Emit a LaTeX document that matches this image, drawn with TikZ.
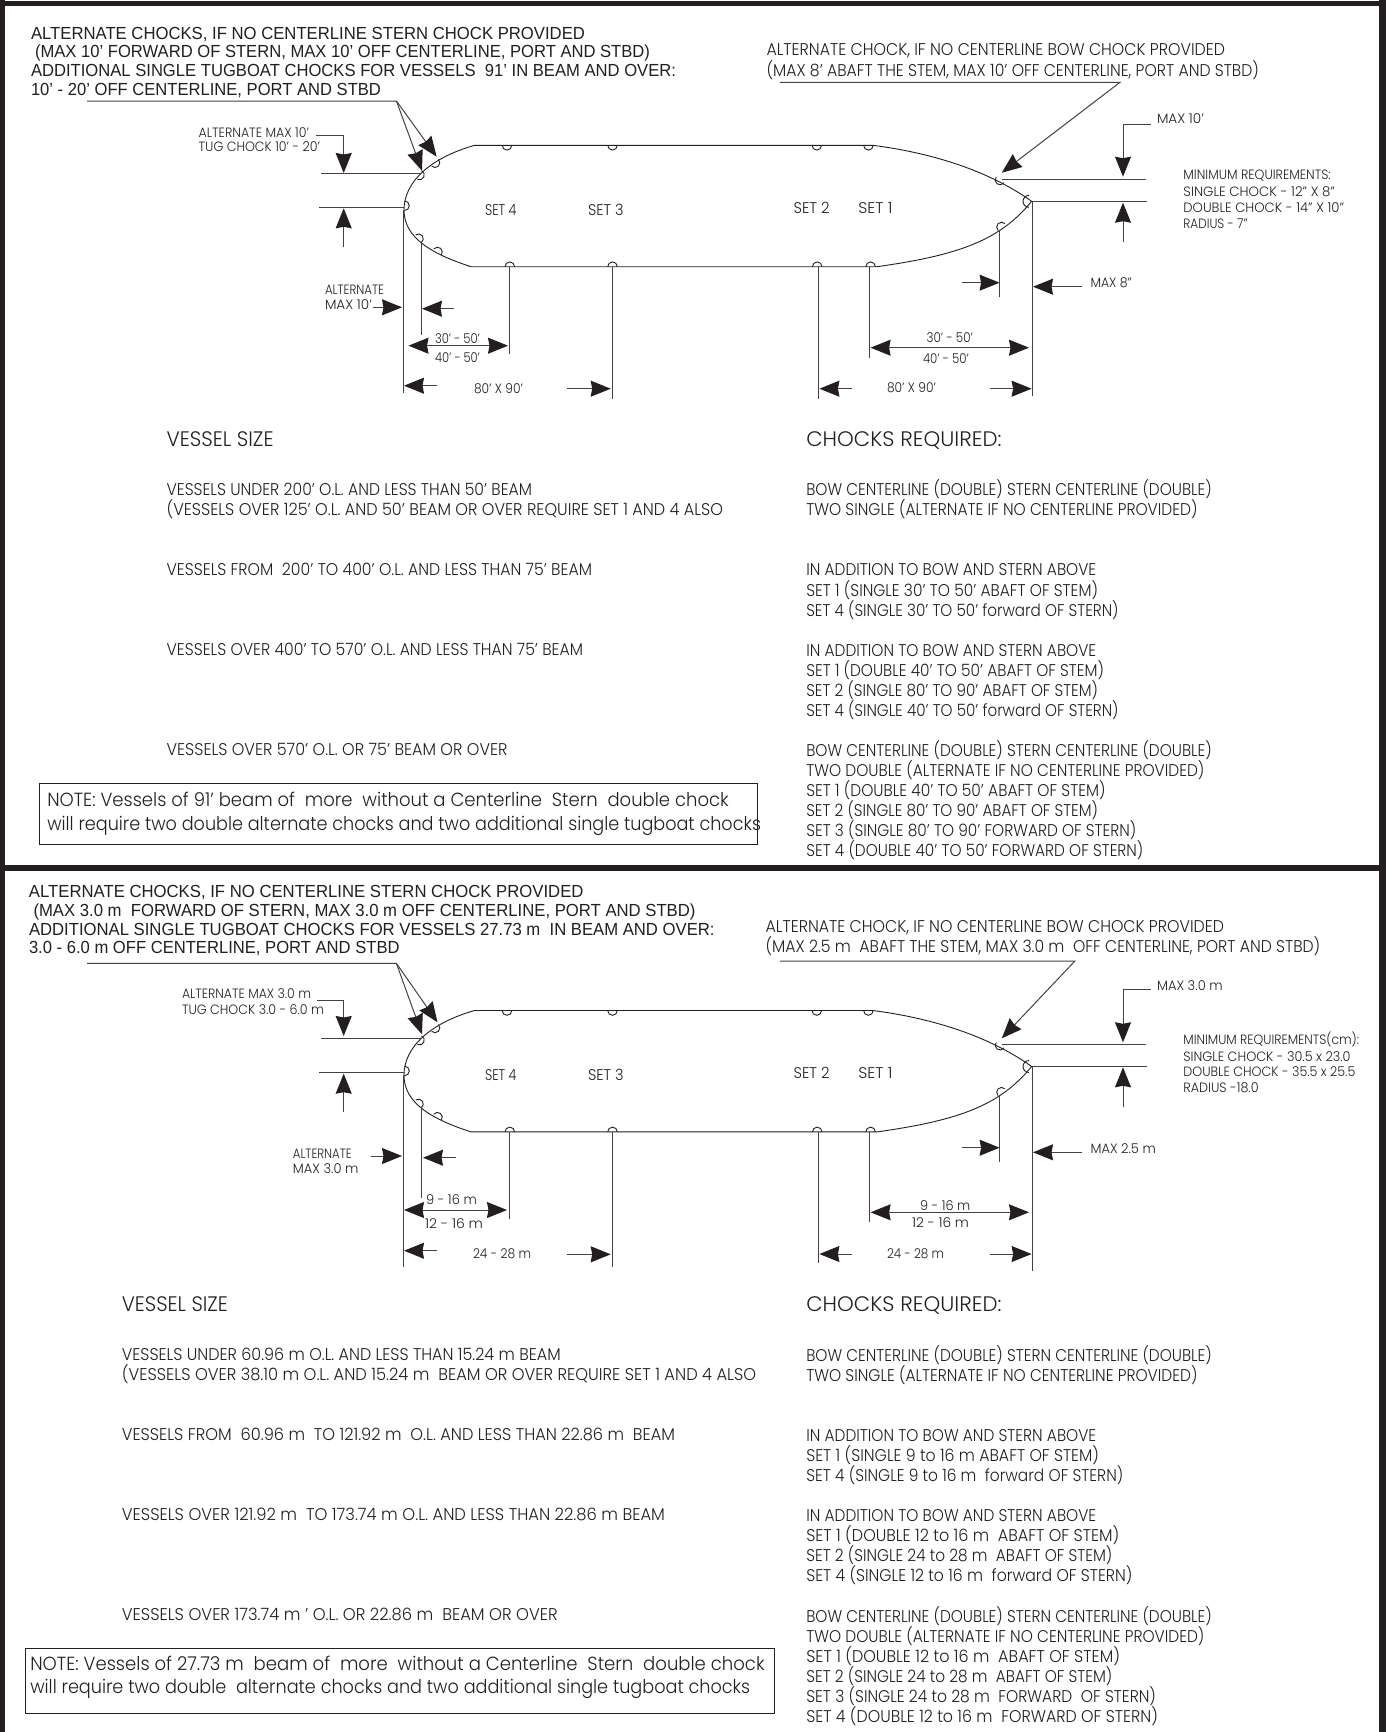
\documentclass[tikz,border=0pt]{standalone}
\usepackage{fontspec}
\usepackage{graphicx}
\setmainfont{Poppins}[UprightFont=* Light]
\newfontfamily\ar{Liberation Sans}
\usetikzlibrary{arrows.meta}
\definecolor{ink}{HTML}{231F20}
\newsavebox\tbox
\newlength\tw
\newcounter{tn}
\newcommand\gf{\rmfamily}
\newcommand\T[6][\gf]{%
  \pgfmathsetmacro\ty{#3+0.355*#5}%
  \stepcounter{tn}%
  \node[txt] (t\arabic{tn}) at (#2,\ty) {%
    \sbox\tbox{#1\fontsize{#5}{#5}\selectfont #6}%
    \setlength\tw{\wd\tbox}%
    \pgfmathsetmacro\tr{(#4-#2)/\tw}%
    \scalebox{\tr}[1]{\usebox\tbox}};}
\newcommand\A[5]{\T[\ar]{#1}{#2}{#3}{#4}{#5}}
\newcommand\chock[4][4.8]{%
  \pgfmathsetmacro\cs{#4-90}\pgfmathsetmacro\ce{#4+90}%
  \draw[hullline] ([shift={(\cs:#1)}]#2,#3) arc[start angle=\cs,end angle=\ce,radius=#1];}
\newcommand\hull[1]{%
 \begin{scope}[yshift=-#1pt]
  \draw[hullline] (474.6,145.3) -- (872.8,145.3) .. controls (925,152) and (985,168) .. (1031.6,201.3)
    .. controls (1000,240) and (960,255) .. (877,266.7) -- (471,266.7)
    .. controls (432,254) and (404,238) .. (404,210)
    .. controls (404,182) and (430,158) .. (474.6,145.3);
  \chock{507}{145.3}{90}\chock{612.5}{145.3}{90}\chock{816.8}{145.3}{90}\chock{868.4}{145.3}{90}
  \chock{509.8}{266.7}{270}\chock{612.5}{266.7}{270}\chock{817.2}{266.7}{270}\chock{870.6}{266.7}{270}
  \chock{435}{162.7}{45}\chock{419.5}{175}{25}\chock{404.5}{205.7}{0}\chock{418.5}{238.7}{-35}\chock{437.5}{252}{-50}
  \chock{1000}{180}{125}\chock[6]{1029}{201.3}{180}\chock{1001.5}{227}{225}
 \end{scope}}
\tikzset{x=1pt,y=-1pt,
 txt/.style={anchor=base west,inner sep=0pt,outer sep=0pt,text=ink},
 hullline/.style={draw=ink,line width=0.9pt},
 ln/.style={draw=ink!85,line width=1pt},
 tip/.tip={Stealth[length=20pt,width=16pt,inset=1.5pt,color=ink,fill=ink]},
 ar1/.style={ln,-tip},
 ar2/.style={ln,tip-tip}}
\begin{document}
\begin{tikzpicture}
\useasboundingbox (0,0) rectangle (1386,1732);
\fill[white] (0,0) rectangle (1386,1732);
% frame
\fill[ink] (0,1) rectangle (1386,6);
\fill[ink] (0,0) rectangle (5,1732);
\fill[ink] (1379,0) rectangle (1386,1732);
\fill[ink] (0,865) rectangle (1386,871);

%%%%%%%%%%%%%%% UPPER DIAGRAM
\hull{0}
\A{31}{33.3}{585}{17.5}{ALTERNATE CHOCKS, IF NO CENTERLINE STERN CHOCK PROVIDED}
\A{35}{51.7}{650}{17.5}{(MAX 10’ FORWARD OF STERN, MAX 10’ OFF CENTERLINE, PORT AND STBD)}
\A{31}{70.3}{676}{17.5}{ADDITIONAL SINGLE TUGBOAT CHOCKS FOR VESSELS~ 91’ IN BEAM AND OVER:}
\A{31}{89.3}{381}{17.5}{10’ - 20’ OFF CENTERLINE, PORT AND STBD}
\T{766.5}{49.3}{1225}{17}{ALTERNATE CHOCK, IF NO CENTERLINE BOW CHOCK PROVIDED}
\T{766.5}{70.7}{1259}{17}{(MAX 8’ ABAFT THE STEM, MAX 10’ OFF CENTERLINE, PORT AND STBD)}
\T{198.7}{132.3}{309}{13.5}{ALTERNATE MAX 10’}
\T{198.7}{147}{320}{13.5}{TUG CHOCK 10’ - 20’}
\T{485}{210}{516.5}{15.5}{SET 4}
\T{588}{210}{623.7}{15.5}{SET 3}
\T{793.6}{208.3}{829.5}{15.5}{SET 2}
\T{858.4}{208.3}{892.5}{15.5}{SET 1}
\T{325}{289.3}{384}{13.5}{ALTERNATE}
\T{325}{305}{372}{13.5}{MAX 10’}
\T{435}{338.3}{480}{13.5}{30’ - 50’}
\T{435}{357.7}{480}{13.5}{40’ - 50’}
\T{474}{388.3}{523}{13.5}{80’ X 90’}
\T{1157}{118.3}{1204}{13.5}{MAX 10’}
\T{1183.4}{175}{1330.8}{13.5}{MINIMUM REQUIREMENTS:}
\T{1183.4}{191.3}{1335}{13.5}{SINGLE CHOCK - 12” X 8”}
\T{1183.4}{207.3}{1344}{13.5}{DOUBLE CHOCK - 14” X 10”}
\T{1183.4}{223.3}{1247.7}{13.5}{RADIUS - 7”}
\T{1090.6}{282.7}{1132}{13.5}{MAX 8”}
\T{926.6}{337.3}{973}{13.5}{30’ - 50’}
\T{923}{358.3}{969}{13.5}{40’ - 50’}
\T{887}{388}{936}{13.5}{80’ X 90’}
% leaders
\draw[ar1] (87,101) -- (396.4,101) -- (422,170.7);
\draw[ar1] (396.4,101) -- (436.6,156.7);
\draw[ar1] (780,82.3) -- (1120,82.3) -- (1001.8,172.7);
% extension lines
\draw[ln] (321.4,173.3) -- (422,173.3);
\draw[ln] (319,207.3) -- (404,207.3);
\draw[ln] (403,210) -- (403,392.7);
\draw[ln] (421,243) -- (421,335);
\draw[ln] (509,266.7) -- (509,354.3);
\draw[ln] (612.5,267) -- (612.5,399);
\draw[ln] (1032.5,201.3) -- (1032.5,396);
\draw[ln] (999.6,230) -- (999.6,296.7);
\draw[ln] (869.3,267) -- (869.3,357.7);
\draw[ln] (818,267) -- (818,399.3);
\draw[ln] (1001.8,179.3) -- (1146,179.3);
\draw[ln] (1032.5,201.7) -- (1147,201.7);
% dimension arrows
\draw[ar1] (316,135) -- (343.7,135) -- (343.7,173);
\draw[ar1] (343.7,247.3) -- (343.7,208.3);
\draw[ar1] (1150.6,124) -- (1123,124) -- (1123,176.7);
\draw[ar1] (1123,242.3) -- (1123,202.7);
\draw[ar1] (372.8,307.3) -- (402,307.3);
\draw[ar1] (454,308.7) -- (422,308.7);
\draw[ar2] (408.5,345.7) -- (508,345.7);
\draw[ar1] (436.6,385.7) -- (404,385.7);
\draw[ar1] (567,388.7) -- (610.7,388.7);
\draw[ar1] (961.6,282.7) -- (999.6,282.7);
\draw[ar1] (1081.9,286.7) -- (1033,286.7);
\draw[ar2] (870.6,347.7) -- (1029,347.7);
\draw[ar1] (851.8,388.7) -- (819.4,388.7);
\draw[ar1] (989.6,388.7) -- (1031.6,388.7);
% table
\T{166.6}{439}{273.6}{21}{VESSEL SIZE}
\T{166.6}{489.3}{532}{17}{VESSELS UNDER 200’ O.L. AND LESS THAN 50’ BEAM}
\T{166.6}{509.3}{723}{17}{(VESSELS OVER 125’ O.L. AND 50’ BEAM OR OVER REQUIRE SET 1 AND 4 ALSO}
\T{166.6}{569.3}{592}{17}{VESSELS FROM~ 200’ TO 400’ O.L. AND LESS THAN 75’ BEAM}
\T{166.6}{649.3}{583}{17}{VESSELS OVER 400’ TO 570’ O.L. AND LESS THAN 75’ BEAM}
\T{166.6}{749.3}{507.5}{17}{VESSELS OVER 570’ O.L. OR 75’ BEAM OR OVER}
\draw[ink,line width=0.9pt] (39.3,783.3) rectangle (757.7,844.3);
\T{47.3}{799.3}{728.8}{19}{NOTE: Vessels of 91’ beam of~ more~ without a Centerline~ Stern~ double chock}
\T{47.3}{824}{761}{19}{will require two double alternate chocks and two additional single tugboat chocks}
\T{806.3}{439}{1001.5}{21}{CHOCKS REQUIRED:}
\T{806.3}{489.3}{1211.8}{17}{BOW CENTERLINE (DOUBLE) STERN CENTERLINE (DOUBLE)}
\T{806.3}{509.3}{1197.5}{17}{TWO SINGLE (ALTERNATE IF NO CENTERLINE PROVIDED)}
\T{806.3}{569.3}{1096.2}{17}{IN ADDITION TO BOW AND STERN ABOVE}
\T{806.3}{590}{1098}{17}{SET 1 (SINGLE 30’ TO 50’ ABAFT OF STEM)}
\T{806.3}{610}{1118.6}{17}{SET 4 (SINGLE 30’ TO 50’ forward OF STERN)}
\T{806.3}{650}{1096.2}{17}{IN ADDITION TO BOW AND STERN ABOVE}
\T{806.3}{670}{1104}{17}{SET 1 (DOUBLE 40’ TO 50’ ABAFT OF STEM)}
\T{806.3}{690}{1098}{17}{SET 2 (SINGLE 80’ TO 90’ ABAFT OF STEM)}
\T{806.3}{710}{1118.6}{17}{SET 4 (SINGLE 40’ TO 50’ forward OF STERN)}
\T{806.3}{750}{1211.8}{17}{BOW CENTERLINE (DOUBLE) STERN CENTERLINE (DOUBLE)}
\T{806.3}{770}{1204.4}{17}{TWO DOUBLE (ALTERNATE IF NO CENTERLINE PROVIDED)}
\T{806.3}{790}{1105.5}{17}{SET 1 (DOUBLE 40’ TO 50’ ABAFT OF STEM)}
\T{806.3}{810}{1098}{17}{SET 2 (SINGLE 80’ TO 90’ ABAFT OF STEM)}
\T{806.3}{830}{1136.4}{17}{SET 3 (SINGLE 80’ TO 90’ FORWARD OF STERN)}
\T{806.3}{850}{1143.4}{17}{SET 4 (DOUBLE 40’ TO 50’ FORWARD OF STERN)}

%%%%%%%%%%%%%%% LOWER DIAGRAM
\hull{865.2}
\A{29}{891}{583.5}{17.5}{ALTERNATE CHOCKS, IF NO CENTERLINE STERN CHOCK PROVIDED}
\A{33.5}{910}{695.5}{17.5}{(MAX 3.0 m~ FORWARD OF STERN, MAX 3.0 m OFF CENTERLINE, PORT AND STBD)}
\A{29}{929.3}{714.6}{17.5}{ADDITIONAL SINGLE TUGBOAT CHOCKS FOR VESSELS 27.73 m~ IN BEAM AND OVER:}
\A{29}{947.7}{399.6}{17.5}{3.0 - 6.0 m OFF CENTERLINE, PORT AND STBD}
\T{765.6}{926.7}{1224}{17}{ALTERNATE CHOCK, IF NO CENTERLINE BOW CHOCK PROVIDED}
\T{765.6}{946.7}{1320.3}{17}{(MAX 2.5 m~ ABAFT THE STEM, MAX 3.0 m~ OFF CENTERLINE, PORT AND STBD)}
\T{182}{993.3}{311}{13.5}{ALTERNATE MAX 3.0 m}
\T{182}{1009.7}{324}{13.5}{TUG CHOCK 3.0 - 6.0 m}
\T{485}{1075.3}{516.5}{15.5}{SET 4}
\T{588}{1075.3}{623.7}{15.5}{SET 3}
\T{793.6}{1073.3}{829.5}{15.5}{SET 2}
\T{858.4}{1073.3}{892.5}{15.5}{SET 1}
\T{292.9}{1153.3}{351.8}{13.5}{ALTERNATE}
\T{292.9}{1168.3}{358.5}{13.5}{MAX 3.0 m}
\T{426}{1199.3}{476.8}{13.5}{9 - 16 m}
\T{425}{1224}{483}{13.5}{12 - 16 m}
\T{473}{1253.3}{531}{13.5}{24 - 28 m}
\T{1157}{985.7}{1222.7}{13.5}{MAX 3.0 m}
\T{1183.4}{1040}{1359.2}{13.5}{MINIMUM REQUIREMENTS(cm):}
\T{1183.4}{1056.7}{1350.5}{13.5}{SINGLE CHOCK - 30.5 x 23.0}
\T{1183.4}{1071.7}{1355.3}{13.5}{DOUBLE CHOCK - 35.5 x 25.5}
\T{1183.4}{1087.3}{1258.6}{13.5}{RADIUS -18.0}
\T{1090.6}{1148.3}{1155.8}{13.5}{MAX 2.5 m}
\T{920}{1205.7}{970.3}{13.5}{9 - 16 m}
\T{912}{1222.3}{969}{13.5}{12 - 16 m}
\T{887}{1253.3}{944}{13.5}{24 - 28 m}
% leaders
\draw[ar1] (87,963.3) -- (396.4,963.3) -- (422,1034.3);
\draw[ar1] (396.4,963.3) -- (437.5,1022.3);
\draw[ar1] (780,961) -- (1074.9,961) -- (1001.8,1038.3);
% extension lines
\draw[ln] (321.4,1038.3) -- (422,1038.3);
\draw[ln] (319,1072.7) -- (404,1072.7);
\draw[ln] (403,1075) -- (403,1267.3);
\draw[ln] (421,1107) -- (421,1198);
\draw[ln] (509,1132.3) -- (509,1219.3);
\draw[ln] (612.5,1132.3) -- (612.5,1266.7);
\draw[ln] (1032.5,1066) -- (1032.5,1270.7);
\draw[ln] (999.6,1095) -- (999.6,1161.7);
\draw[ln] (869.3,1132.3) -- (869.3,1222.3);
\draw[ln] (818,1132.3) -- (818,1263.3);
\draw[ln] (1001.8,1044.7) -- (1146,1044.7);
\draw[ln] (1032.5,1066.3) -- (1147,1066.3);
% dimension arrows
\draw[ar1] (317,1000.7) -- (343.7,1000.7) -- (343.7,1036);
\draw[ar1] (343.7,1112.3) -- (343.7,1073.7);
\draw[ar1] (1150.6,989.3) -- (1123,989.3) -- (1123,1042.3);
\draw[ar1] (1123,1107.3) -- (1123,1067.3);
\draw[ar1] (371.4,1156) -- (402,1156);
\draw[ar1] (455.8,1157.7) -- (423,1157.7);
\draw[ar2] (404,1210) -- (507,1210);
\draw[ar1] (436.6,1250.7) -- (404,1250.7);
\draw[ar1] (567,1254.3) -- (610.7,1254.3);
\draw[ar1] (961.6,1147.7) -- (999.6,1147.7);
\draw[ar1] (1081.9,1152.3) -- (1033,1152.3);
\draw[ar2] (870.6,1212.3) -- (1029,1212.3);
\draw[ar1] (851.8,1254) -- (819.4,1254);
\draw[ar1] (989.6,1254) -- (1031.6,1254);
% table
\T{121.9}{1304}{227.9}{21}{VESSEL SIZE}
\T{121.9}{1354.3}{560.7}{17}{VESSELS UNDER 60.96 m O.L. AND LESS THAN 15.24 m BEAM}
\T{121.9}{1374.3}{756.2}{17}{(VESSELS OVER 38.10 m O.L. AND 15.24 m~ BEAM OR OVER REQUIRE SET 1 AND 4 ALSO}
\T{121.9}{1434.3}{675}{17}{VESSELS FROM~ 60.96 m~ TO 121.92 m~ O.L. AND LESS THAN 22.86 m~ BEAM}
\T{121.9}{1514.3}{665}{17}{VESSELS OVER 121.92 m~ TO 173.74 m O.L. AND LESS THAN 22.86 m BEAM}
\T{121.9}{1614.3}{557.7}{17}{VESSELS OVER 173.74 m ’ O.L. OR 22.86 m~ BEAM OR OVER}
\draw[ink,line width=0.9pt] (25.4,1648.3) rectangle (774.6,1713.3);
\T{30.3}{1663.3}{764.7}{19}{NOTE: Vessels of 27.73 m~ beam of~ more~ without a Centerline~ Stern~ double chock}
\T{30.3}{1686.7}{750.2}{19}{will require two double~ alternate chocks and two additional single tugboat chocks}
\T{806.3}{1304}{1001.5}{21}{CHOCKS REQUIRED:}
\T{806.3}{1355.3}{1211.8}{17}{BOW CENTERLINE (DOUBLE) STERN CENTERLINE (DOUBLE)}
\T{806.3}{1375}{1197.5}{17}{TWO SINGLE (ALTERNATE IF NO CENTERLINE PROVIDED)}
\T{806.3}{1435}{1096.2}{17}{IN ADDITION TO BOW AND STERN ABOVE}
\T{806.3}{1455}{1099}{17}{SET 1 (SINGLE 9 to 16 m ABAFT OF STEM)}
\T{806.3}{1475}{1123.3}{17}{SET 4 (SINGLE 9 to 16 m~ forward OF STERN)}
\T{806.3}{1515}{1096.2}{17}{IN ADDITION TO BOW AND STERN ABOVE}
\T{806.3}{1535}{1119.4}{17}{SET 1 (DOUBLE 12 to 16 m~ ABAFT OF STEM)}
\T{806.3}{1555}{1112.4}{17}{SET 2 (SINGLE 24 to 28 m~ ABAFT OF STEM)}
\T{806.3}{1575}{1132.5}{17}{SET 4 (SINGLE 12 to 16 m~ forward OF STERN)}
\T{806.3}{1616}{1211.8}{17}{BOW CENTERLINE (DOUBLE) STERN CENTERLINE (DOUBLE)}
\T{806.3}{1636}{1204.4}{17}{TWO DOUBLE (ALTERNATE IF NO CENTERLINE PROVIDED)}
\T{806.3}{1656}{1120}{17}{SET 1 (DOUBLE 12 to 16 m~ ABAFT OF STEM)}
\T{806.3}{1676}{1112.4}{17}{SET 2 (SINGLE 24 to 28 m~ ABAFT OF STEM)}
\T{806.3}{1696}{1156}{17}{SET 3 (SINGLE 24 to 28 m~ FORWARD~ OF STERN)}
\T{806.3}{1716}{1158}{17}{SET 4 (DOUBLE 12 to 16 m~ FORWARD OF STERN)}
\end{tikzpicture}
\end{document}
